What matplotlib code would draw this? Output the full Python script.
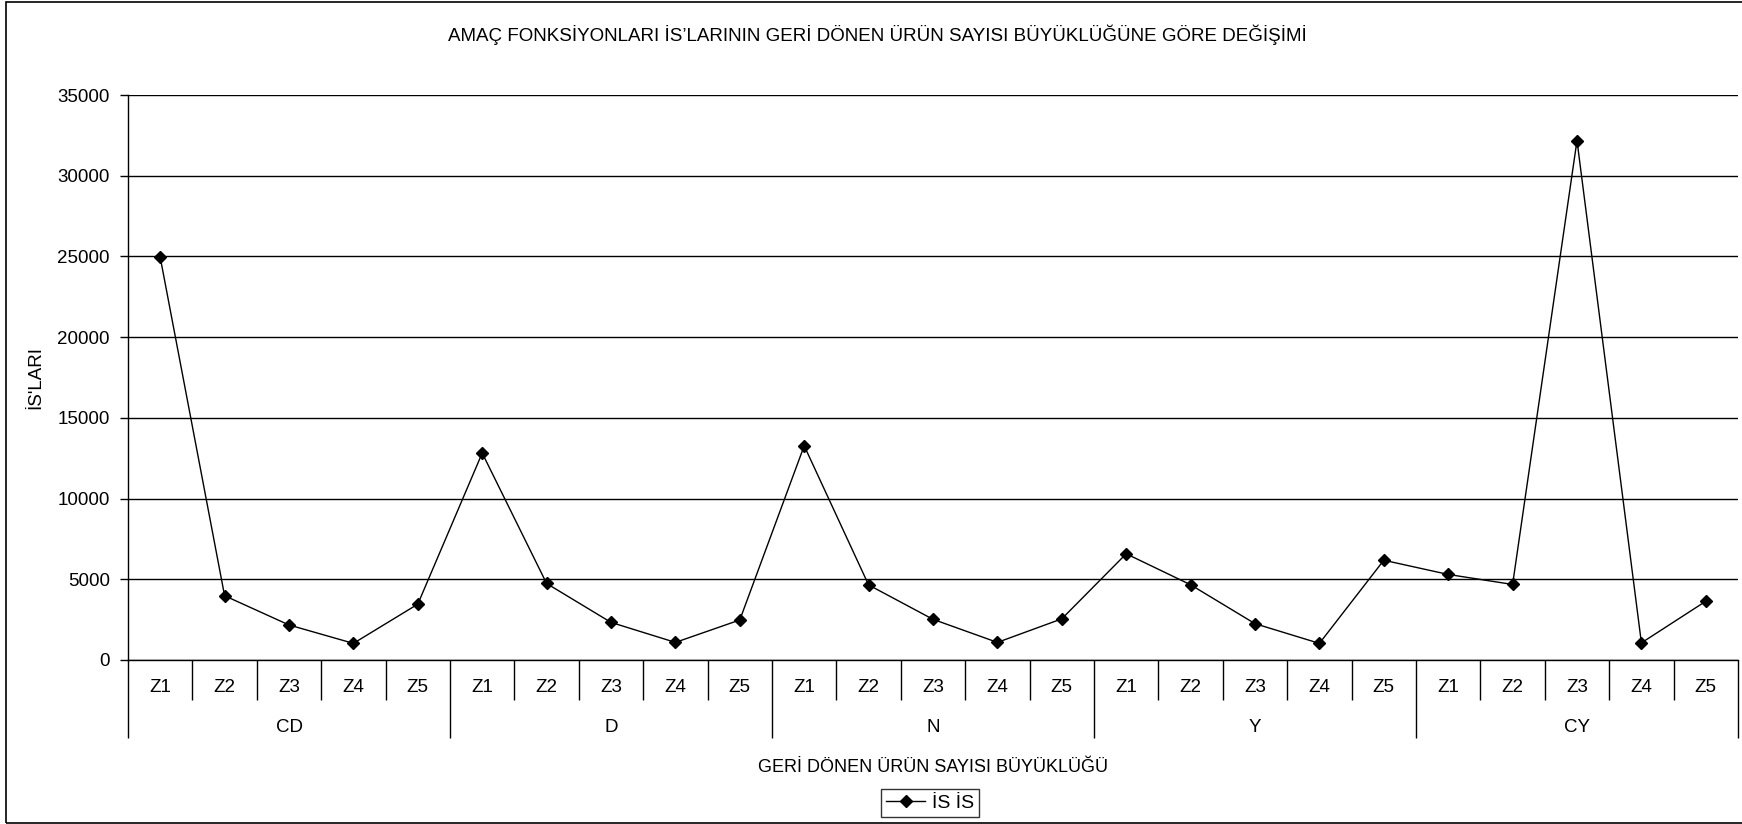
import matplotlib
matplotlib.use("Agg")
import matplotlib.pyplot as plt
from matplotlib.patches import Rectangle

plt.rcParams['font.family'] = ['Liberation Sans', 'DejaVu Sans']

groups = ["CD", "D", "N", "Y", "CY"]
sizes = ["Z1", "Z2", "Z3", "Z4", "Z5"]
values = [
    24950, 3980, 2170, 1030, 3460,    # CD
    12820, 4740, 2330, 1090, 2480,    # D
    13270, 4650, 2520, 1090, 2550,    # N
    6580, 4660, 2250, 1030, 6180,     # Y
    5300, 4680, 32180, 1060, 3640,    # CY
]

n_sizes = len(sizes)
n = len(groups) * n_sizes
x = list(range(n))

fig = plt.figure(figsize=(17.42, 8.24), dpi=100)
ax = fig.add_axes([128 / 1742, 1 - 660 / 824, (1738 - 128) / 1742, (660 - 95) / 824])

ax.plot(x, values, color="black", linewidth=1.0, marker="D", markersize=6.5,
        markerfacecolor="black", markeredgecolor="black", label="İS İS", clip_on=False)

ax.set_ylim(0, 35000)
ax.set_yticks(range(0, 35001, 5000))
ax.set_xlim(-0.5, n - 0.5)
ax.grid(axis="y", color="black", linewidth=1.0)
ax.set_axisbelow(True)
ax.spines["top"].set_visible(False)
ax.spines["right"].set_visible(False)
ax.spines["left"].set_linewidth(1.0)
ax.spines["bottom"].set_linewidth(1.0)
ax.tick_params(axis="y", direction="out", length=6, width=1.0, pad=7, labelsize=13.5)

# category separators: short ticks between sizes, long ticks between groups
bounds = [i - 0.5 for i in range(n + 1)]
inner = [b for i, b in enumerate(bounds) if i % n_sizes != 0]
outer = [b for i, b in enumerate(bounds) if i % n_sizes == 0]
ax.set_xticks(inner)
ax.set_xticks(outer, minor=True)
ax.tick_params(axis="x", which="major", direction="out", length=29, width=1.0, labelbottom=False)
ax.tick_params(axis="x", which="minor", direction="out", length=56, width=1.0, labelbottom=False)

trans = ax.get_xaxis_transform()
ax_h = 660 - 95
for i in range(n):
    ax.text(i, -28 / ax_h, sizes[i % n_sizes], transform=trans, ha="center", va="center", fontsize=13.5)
for g, name in enumerate(groups):
    ax.text(g * n_sizes + (n_sizes - 1) / 2, -67 / ax_h, name, transform=trans,
            ha="center", va="center", fontsize=13.5)

ax.set_xlabel("GERİ DÖNEN ÜRÜN SAYISI BÜYÜKLÜĞÜ", fontsize=13, labelpad=0)
ax.xaxis.set_label_coords(0.5, -99 / ax_h)
ax.set_ylabel("İS'LARI", fontsize=13.5)
ax.yaxis.set_label_coords(-84 / 1610, 0.5)

fig.text(0.5 * (449 + 1305) / 1742, 1 - 35 / 824,
         "AMAÇ FONKSİYONLARI İS’LARININ GERİ DÖNEN ÜRÜN SAYISI BÜYÜKLÜĞÜNE GÖRE DEĞİŞİMİ",
         ha="center", va="center", fontsize=13.5)

leg = fig.legend(loc="center", bbox_to_anchor=(930 / 1742, 1 - 803 / 824), fontsize=14,
                 frameon=True, fancybox=False, edgecolor="black", handlelength=2.0,
                 borderpad=0.25, handletextpad=0.35)
leg.get_frame().set_linewidth(1.0)

# outer chart border
fig.patches.append(Rectangle((6 / 1742, 1 / 824), 1.02, 1 - 3 / 824, transform=fig.transFigure,
                             fill=False, edgecolor="black", linewidth=1.2))

fig.savefig("out.png", dpi=100)
